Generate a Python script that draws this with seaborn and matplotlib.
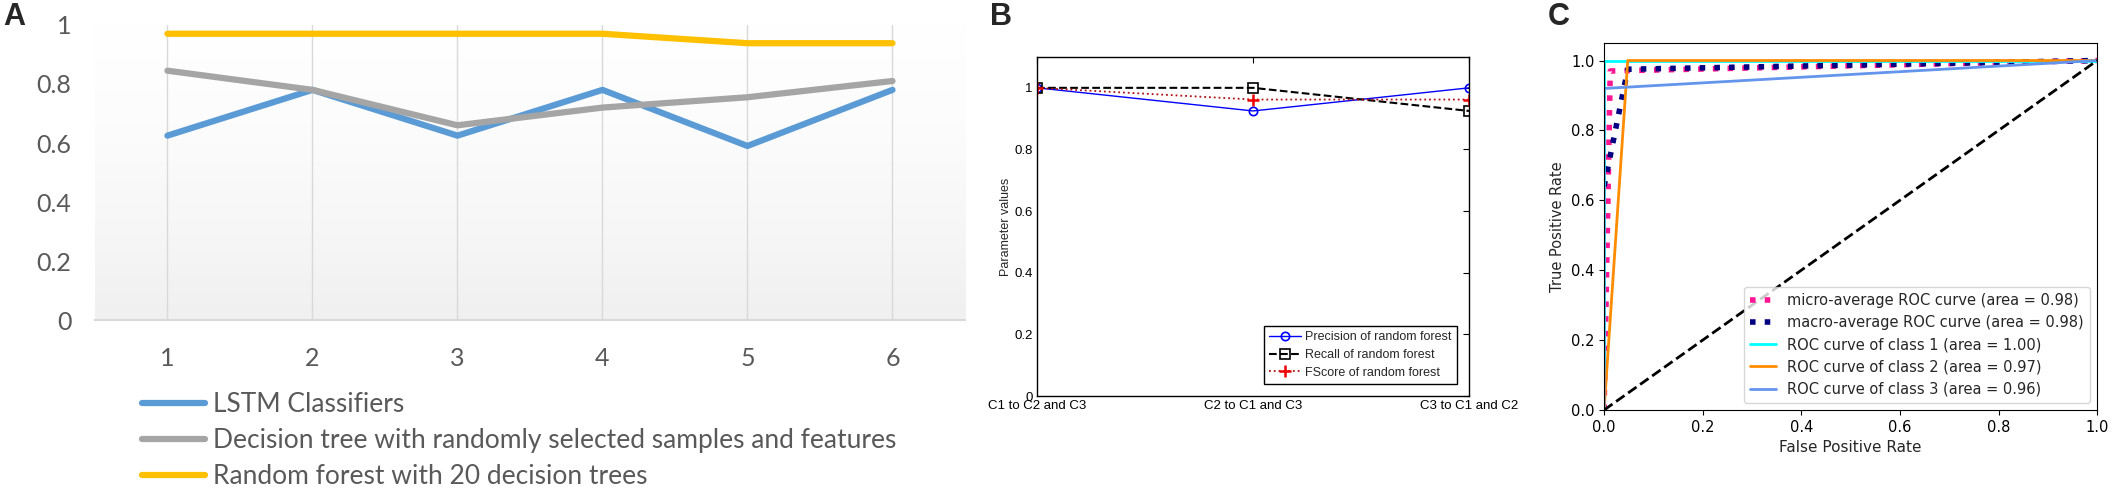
import numpy as np
import pandas as pd
import matplotlib
matplotlib.use("Agg")
import matplotlib.pyplot as plt
from matplotlib.colors import LinearSegmentedColormap
import seaborn as sns

# ---------------- Panel A: accuracy per run ----------------
runs = [1, 2, 3, 4, 5, 6]
lstm_acc = [0.625, 0.78, 0.625, 0.78, 0.59, 0.78]
dtree_acc = [0.845, 0.78, 0.66, 0.72, 0.755, 0.81]
rforest_acc = [0.97, 0.97, 0.97, 0.97, 0.938, 0.938]
names_a = ["LSTM Classifiers",
           "Decision tree with randomly selected samples and features",
           "Random forest with 20 decision trees"]
colors_a = ["#5B9BD5", "#A5A5A5", "#FFC000"]
yticks_a = [0, 0.2, 0.4, 0.6, 0.8, 1]

# ---------------- Panel B: random forest metrics ----------------
schemes = ["C1 to C2 and C3", "C2 to C1 and C3", "C3 to C1 and C2"]
precision_rf = [1.0, 0.925, 1.0]
recall_rf = [1.0, 1.0, 0.925]
fscore_rf = [1.0, 0.962, 0.962]
names_b = ["Precision of random forest", "Recall of random forest", "FScore of random forest"]
yticks_b = [0, 0.2, 0.4, 0.6, 0.8, 1]

# ---------------- Panel C: ROC curves ----------------
micro_fpr = [0.0, 0.0125, 1.0]
micro_tpr = [0.0, 0.97, 1.0]
macro_fpr = [0.0, 0.048, 1.0]
macro_tpr = [0.64, 0.975, 1.0]
cls1_fpr = [0.0, 0.0, 1.0]
cls1_tpr = [0.0, 1.0, 1.0]
cls2_fpr = [0.0, 0.048, 1.0]
cls2_tpr = [0.0, 1.0, 1.0]
cls3_fpr = [0.0, 0.0, 1.0]
cls3_tpr = [0.0, 0.92, 1.0]
roc_areas = [0.98, 0.98, 1.00, 0.97, 0.96]
ticks_c = [0.0, 0.2, 0.4, 0.6, 0.8, 1.0]

sns.set_style("white")
plt.rcParams['font.family'] = ['DejaVu Sans']

fig = plt.figure(figsize=(21.19, 4.98), dpi=100)
axA = fig.add_axes([0.0448, 0.357, 0.4106, 0.593])
axB = fig.add_axes([0.4894, 0.2048, 0.2039, 0.6807])
axC = fig.add_axes([0.757, 0.1767, 0.2327, 0.7369])

# ---------- A ----------
excel_grey = "#595959"
grad = LinearSegmentedColormap.from_list("g", ["#ffffff", "#fcfcfc", "#f7f7f7", "#f0f0f0"])
axA.imshow(np.linspace(0, 1, 256).reshape(-1, 1), cmap=grad, aspect="auto",
           extent=(0.5, 6.5, 0, 1), zorder=0)
df_a = pd.DataFrame({"run": runs * 3,
                     "acc": lstm_acc + dtree_acc + rforest_acc,
                     "model": [n for n in names_a for _ in runs]})
sns.lineplot(data=df_a, x="run", y="acc", hue="model", palette=colors_a,
             linewidth=4.5, ax=axA, legend=False, zorder=3,
             solid_capstyle="round")
axA.set_xlim(0.5, 6.5)
axA.set_ylim(0, 1)
axA.set_xticks(runs)
axA.set_yticks(yticks_a)
axA.set_yticklabels([f"{v:g}" for v in yticks_a])
axA.set_xlabel("")
axA.set_ylabel("")
for s in ["top", "left", "right"]:
    axA.spines[s].set_visible(False)
axA.spines["bottom"].set_color("#d9d9d9")
axA.spines["bottom"].set_linewidth(1.5)
axA.xaxis.grid(True, color="#d9d9d9", linewidth=1)
axA.yaxis.grid(False)
axA.set_axisbelow(False)
axA.tick_params(length=0, labelsize=18, labelcolor=excel_grey)
axA.tick_params(axis="y", pad=17)
axA.tick_params(axis="x", pad=19)
for lab in axA.get_xticklabels() + axA.get_yticklabels():
    lab.set_fontfamily("Lato")
handles = axA.get_lines()[:3]
leg = fig.legend(handles, names_a, loc="upper left", bbox_to_anchor=(0.067, 0.213),
                 frameon=False, prop={"family": "Lato", "size": 19},
                 handlelength=2.4, handletextpad=0.3, labelspacing=0.42,
                 borderpad=0, borderaxespad=0)
for t in leg.get_texts():
    t.set_color(excel_grey)

# ---------- B ----------
xpos = np.arange(len(schemes))
sns.lineplot(x=xpos, y=precision_rf, ax=axB, color="#0000ff", linewidth=1,
             marker="o", markersize=6, markerfacecolor="none",
             markeredgecolor="#0000ff", markeredgewidth=1.2, label=names_b[0])
sns.lineplot(x=xpos, y=recall_rf, ax=axB, color="k", linewidth=1.5, linestyle="--",
             marker="s", markersize=7, markerfacecolor="none",
             markeredgecolor="k", markeredgewidth=1.2, label=names_b[1])
sns.lineplot(x=xpos, y=fscore_rf, ax=axB, color="#b01010", linewidth=1.3, linestyle=":",
             marker="+", markersize=9, markeredgecolor="#ee0000",
             markeredgewidth=1.8, label=names_b[2])
axB.set_xlim(0, 2)
axB.set_ylim(0, 1.1)
axB.set_xticks(xpos)
axB.set_xticklabels(schemes)
axB.set_yticks(yticks_b)
axB.set_yticklabels([f"{v:g}" for v in yticks_b])
axB.set_ylabel("Parameter values", fontsize=9, fontfamily="Liberation Sans", labelpad=2)
for s in axB.spines.values():
    s.set_visible(True)
    s.set_color("k")
    s.set_linewidth(1)
axB.tick_params(direction="in", top=True, right=True, length=4, width=0.8,
                labelsize=9.5, colors="k", pad=3)
for lab in axB.get_xticklabels() + axB.get_yticklabels():
    lab.set_fontfamily("Liberation Sans")
axB.legend(loc="lower right", fancybox=False, edgecolor="k", framealpha=1,
           prop={"family": "Liberation Sans", "size": 9}, borderaxespad=1.0,
           handlelength=2.6, handletextpad=0.3, labelspacing=0.45, borderpad=0.4)
axB.legend_.get_frame().set_linewidth(1)

# ---------- C ----------
roc_sets = [
    (micro_fpr, micro_tpr, "deeppink", ":", 4, "micro-average ROC curve"),
    (macro_fpr, macro_tpr, "navy", ":", 4, "macro-average ROC curve"),
    (cls1_fpr, cls1_tpr, "aqua", "-", 2, "ROC curve of class 1"),
    (cls2_fpr, cls2_tpr, "darkorange", "-", 2, "ROC curve of class 2"),
    (cls3_fpr, cls3_tpr, "cornflowerblue", "-", 2, "ROC curve of class 3"),
]
for (fx, ty, col, ls, lw, name), area in zip(roc_sets, roc_areas):
    sns.lineplot(x=fx, y=ty, ax=axC, color=col, linestyle=ls, linewidth=lw,
                 estimator=None, sort=False, label=f"{name} (area = {area:.2f})")
sns.lineplot(x=[0, 1], y=[0, 1], ax=axC, color="k", linestyle="--", linewidth=2)
axC.set_xlim(0, 1)
axC.set_ylim(0, 1.05)
axC.set_xticks(ticks_c)
axC.set_yticks(ticks_c)
axC.set_xticklabels([f"{v:.1f}" for v in ticks_c])
axC.set_yticklabels([f"{v:.1f}" for v in ticks_c])
axC.set_xlabel("False Positive Rate", fontsize=11)
axC.set_ylabel("True Positive Rate", fontsize=10.5)
for s in axC.spines.values():
    s.set_visible(True)
    s.set_color("k")
    s.set_linewidth(0.8)
axC.tick_params(direction="out", length=3.5, width=0.8, labelsize=10.5,
                bottom=True, left=True, colors="k")
axC.legend(loc="lower right", fontsize=10.5, handlelength=1.8)

# panel letters
for x, letter in [(0.0015, "A"), (0.467, "B"), (0.7305, "C")]:
    fig.text(x, 0.995, letter, ha="left", va="top", fontsize=22,
             fontweight="bold", fontfamily="Liberation Sans")

fig.savefig("out.png", dpi=100)
